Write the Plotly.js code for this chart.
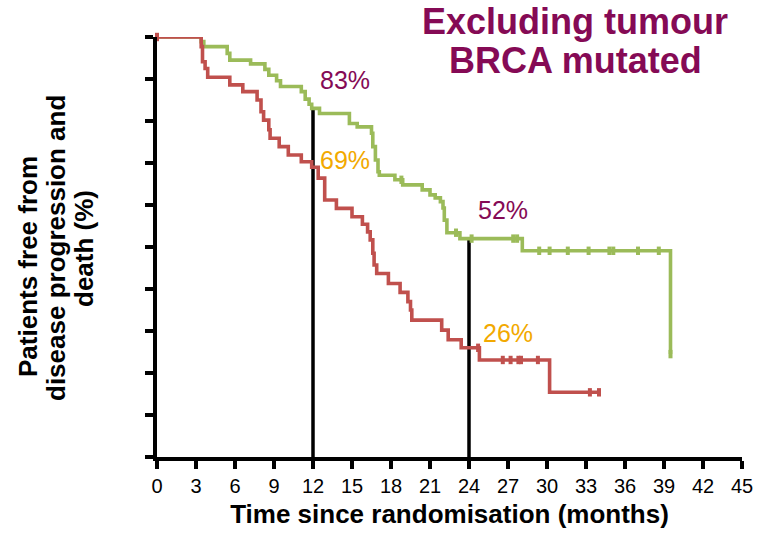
<!DOCTYPE html>
<html>
<head>
<meta charset="utf-8">
<script src="https://cdn.plot.ly/plotly-3.0.1.min.js"></script>
<style>
  html, body { margin: 0; padding: 0; background: #ffffff; }
  #chart { width: 761px; height: 535px; }
</style>
</head>
<body>
<div id="chart"></div>
<script>
// Kaplan-Meier step curves: event times (months) and survival (%)
const armGreenTime = [0, 3.4, 3.6, 5.4, 5.6, 7.2, 8.3, 8.6, 9.2, 9.5, 11.1, 11.4, 11.7, 11.9, 12.5, 14.8, 15.4, 16.5, 16.6, 16.8, 17.0, 17.1, 18.3, 18.9, 20.4, 21.0, 21.4, 21.8, 22.0, 22.1, 22.3, 23.3, 28.1, 39.5];
const armGreenSurv = [100, 98.9, 97.7, 96.1, 94.5, 93.6, 92.3, 90.9, 89.6, 88.2, 87.0, 85.2, 84.0, 83.0, 81.8, 79.4, 78.6, 77.1, 73.9, 70.7, 67.9, 67.1, 66.0, 64.8, 63.6, 62.4, 61.7, 60.8, 59.3, 56.4, 53.4, 52.0, 49.1, 24.5];
const armGreenCensored = [18.8, 23.0, 24.2, 27.4, 27.7, 29.4, 30.2, 31.6, 33.2, 34.8, 35.1, 37.0, 38.6, 39.5];

const armRedTime = [0, 3.4, 3.5, 3.7, 3.9, 5.6, 6.6, 7.7, 8.0, 8.2, 8.6, 8.7, 9.4, 10.1, 11.1, 11.9, 12.4, 12.9, 13.8, 15.0, 15.8, 16.2, 16.4, 16.6, 16.7, 16.9, 17.8, 18.7, 19.3, 19.5, 19.6, 21.9, 22.4, 23.4, 24.8, 30.2, 34.1];
const armRedSurv = [100, 97.7, 94.1, 92.5, 90.4, 88.6, 87.0, 85.0, 82.2, 80.2, 77.9, 75.9, 73.9, 71.9, 70.3, 69.0, 66.4, 61.2, 59.2, 57.2, 55.4, 53.6, 51.7, 48.5, 45.7, 43.7, 41.3, 39.2, 37.0, 35.0, 32.6, 30.2, 27.9, 26.0, 23.1, 15.4, 15.4];
const armRedCensored = [0, 24.7, 26.6, 27.2, 27.8, 28.0, 29.3, 33.3, 34.0];

// Landmark estimates at 12 and 24 months
const landmarkMonths = [12, 24];
const landmarkGreen = [83, 52];
const landmarkRed = [69, 26];

// Axis ticks
const xTickVals = [0, 3, 6, 9, 12, 15, 18, 21, 24, 27, 30, 33, 36, 39, 42, 45];
const yTickVals = [0, 10, 20, 30, 40, 50, 60, 70, 80, 90, 100];

const GREEN = '#9BBB59';
const RED = '#C0504D';
const PLUM = '#850A55';
const AMBER = '#F2A900';
const FONT = 'Liberation Sans, Arial, sans-serif';

// survival value of a step curve at time t
function survAt(times, surv, t) {
  let v = surv[0];
  for (let i = 0; i < times.length; i++) {
    if (times[i] <= t) v = surv[i]; else break;
  }
  return v;
}

// vertical landmark lines from the axis up to the green curve
const lmX = [], lmY = [];
landmarkMonths.forEach((m, i) => { lmX.push(m, m, null); lmY.push(0, landmarkGreen[i], null); });

const traces = [
  { x: lmX, y: lmY, mode: 'lines', line: { color: '#000000', width: 3.5 }, hoverinfo: 'skip', cliponaxis: false },
  { x: armGreenTime, y: armGreenSurv, mode: 'lines', line: { color: GREEN, width: 3.6, shape: 'hv' }, cliponaxis: false },
  { x: armGreenCensored, y: armGreenCensored.map(t => survAt(armGreenTime, armGreenSurv, t)), mode: 'markers',
    marker: { symbol: 'line-ns-open', size: 6, color: GREEN, line: { color: GREEN, width: 4 } }, cliponaxis: false },
  { x: armRedTime, y: armRedSurv, mode: 'lines', line: { color: RED, width: 3.6, shape: 'hv' }, cliponaxis: false },
  { x: armRedCensored, y: armRedCensored.map(t => survAt(armRedTime, armRedSurv, t)), mode: 'markers',
    marker: { symbol: 'line-ns-open', size: 6, color: RED, line: { color: RED, width: 4 } }, cliponaxis: false }
];

// pixel helpers for text placed outside the plot area
const PL = 157, PR = 742, PT = 37, PB = 457;
const px = x => (x - PL) / (PR - PL);
const py = y => (PB - y) / (PB - PT);

// label placement relative to each landmark (months, % units)
const labelOffsets = [
  { green: [2.46, 6.8], red: [2.46, 1.7] },
  { green: [2.65, 6.7], red: [3.0, 3.5] }
];

const annotations = [];
landmarkMonths.forEach((m, i) => {
  const o = labelOffsets[i];
  annotations.push({ x: m + o.green[0], y: landmarkGreen[i] + o.green[1], xref: 'x', yref: 'y',
    text: landmarkGreen[i] + '%', showarrow: false, font: { family: FONT, size: 25, color: PLUM } });
  annotations.push({ x: m + o.red[0], y: landmarkRed[i] + o.red[1], xref: 'x', yref: 'y',
    text: landmarkRed[i] + '%', showarrow: false, font: { family: FONT, size: 25, color: AMBER } });
});

// title lines
annotations.push({ x: px(575), y: py(22), xref: 'paper', yref: 'paper', text: '<b>Excluding tumour</b>',
  showarrow: false, xanchor: 'center', yanchor: 'middle', font: { family: FONT, size: 36, color: PLUM } });
annotations.push({ x: px(575), y: py(60), xref: 'paper', yref: 'paper', text: '<b>BRCA mutated</b>',
  showarrow: false, xanchor: 'center', yanchor: 'middle', font: { family: FONT, size: 36, color: PLUM } });

// y-axis title lines
const yTitleLines = ['Patients free from', 'disease progression and', 'death (%)'];
const yTitleX = [28, 56, 84];
const yTitleY = [267, 248, 249];
yTitleLines.forEach((s, i) => {
  annotations.push({ x: px(yTitleX[i]), y: py(yTitleY[i]), xref: 'paper', yref: 'paper', text: '<b>' + s + '</b>',
    textangle: -90, showarrow: false, xanchor: 'center', yanchor: 'middle',
    font: { family: FONT, size: 26, color: '#000000' } });
});

const layout = {
  width: 761, height: 535,
  margin: { l: PL, r: 761 - PR, t: PT, b: 535 - PB, pad: 0 },
  paper_bgcolor: '#ffffff', plot_bgcolor: '#ffffff',
  showlegend: false, hovermode: false,
  xaxis: {
    range: [0, 45], tickvals: xTickVals, ticktext: xTickVals.map(String),
    showline: true, linecolor: '#000000', linewidth: 4, mirror: false,
    ticks: 'outside', ticklen: 8, tickwidth: 4, tickcolor: '#000000',
    showgrid: false, zeroline: false,
    tickfont: { family: FONT, size: 20, color: '#000000' },
    title: { text: '<b>Time since randomisation (months)</b>', standoff: 10,
      font: { family: FONT, size: 26, color: '#000000' } }
  },
  yaxis: {
    range: [0, 100], tickvals: yTickVals, showticklabels: false,
    showline: true, linecolor: '#000000', linewidth: 4,
    ticks: 'outside', ticklen: 8, tickwidth: 4, tickcolor: '#000000',
    showgrid: false, zeroline: false
  },
  annotations: annotations
};

Plotly.newPlot('chart', traces, layout, { displayModeBar: false, staticPlot: true });
</script>
</body>
</html>
